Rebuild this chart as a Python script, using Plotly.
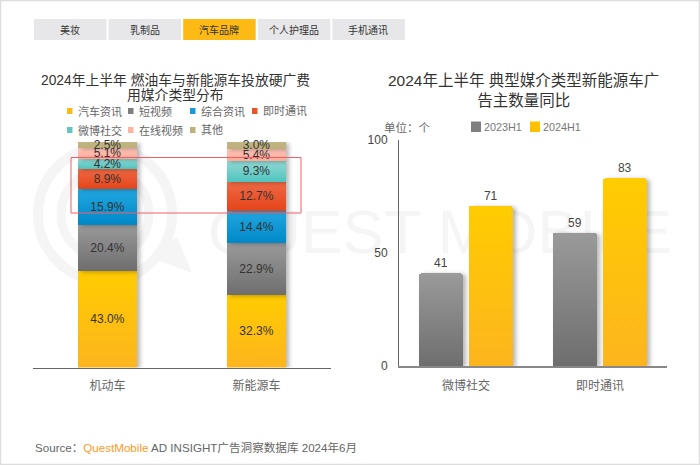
import plotly.graph_objects as go

tabs = ["美妆", "乳制品", "汽车品牌", "个人护理品", "手机通讯"]
active_tab = "汽车品牌"
left_title = ["2024年上半年 燃油车与新能源车投放硬广费", "用媒介类型分布"]
right_title = "2024年上半年 典型媒介类型新能源车广<br>告主数量同比"
left_cats = ["机动车", "新能源车"]
left_names = ["汽车资讯", "短视频", "综合资讯", "即时通讯", "微博社交", "在线视频", "其他"]
left_colors = ["#FDBA14", "#7F7F7F", "#1A9AD6", "#E9552B", "#62C6C4", "#FBB5A3", "#BDB078"]
car_vals = [43.0, 20.4, 15.9, 8.9, 4.2, 5.1, 2.5]
nev_vals = [32.3, 22.9, 14.4, 12.7, 9.3, 5.4, 3.0]
right_cats = ["微博社交", "即时通讯"]
h1_2023 = [41, 59]
h1_2024 = [71, 83]
right_ticks = [0, 50, 100]

W, H = 700, 465
FONT = "Liberation Sans, Noto Sans CJK SC"
px = lambda x: x / W
py = lambda y: 1 - y / H

fig = go.Figure()
# Watermark lives on the first subplot so it is painted beneath the bars.
fig.add_trace(go.Scatter(x=[440], y=[237], mode="text", text=["QUEST MOBILE"], xaxis="x", yaxis="y",
                         textfont=dict(size=62, color="#F5F5F5", family="Liberation Sans"),
                         textposition="middle center", showlegend=False, hoverinfo="skip", cliponaxis=False))
for i, name in enumerate(left_names):
    vals = [car_vals[i], nev_vals[i]]
    fig.add_trace(go.Bar(
        x=left_cats, y=vals, name=name, xaxis="x2", yaxis="y2",
        width=0.4, marker=dict(color=left_colors[i], line_width=0),
        text=[f"{v:.1f}%" for v in vals], textposition="inside",
        insidetextanchor="middle", constraintext="none", textangle=0,
        insidetextfont=dict(size=12, color="#333333", family=FONT),
        showlegend=False, cliponaxis=False,
    ))
for name, vals, color, off in [("2023H1", h1_2023, "#7F7F7F", -0.35), ("2024H1", h1_2024, "#FFC000", 0.022)]:
    fig.add_trace(go.Bar(
        x=right_cats, y=vals, name=name, xaxis="x3", yaxis="y3",
        width=0.325, offset=off,
        marker=dict(color=color, line_width=0, cornerradius=2),
        text=vals, textposition="outside",
        textfont=dict(size=12, color="#444444", family=FONT),
        showlegend=False, cliponaxis=False, offsetgroup=name,
    ))

shapes, ann = [], []
def text(x, y, s, size=12, color="#555555", anchor="center", **kw):
    ann.append(dict(xref="paper", yref="paper", x=px(x), y=py(y), text=s, showarrow=False,
                    xanchor=anchor, yanchor="middle", align="center",
                    font=dict(size=size, color=color, family=FONT), **kw))
def rect(x0, y0, x1, y1, fill=None, line=None, lw=0, layer="below"):
    shapes.append(dict(type="rect", xref="paper", yref="paper", x0=px(x0), x1=px(x1), y0=py(y0), y1=py(y1),
                       fillcolor=fill or "rgba(0,0,0,0)", line=dict(color=line or "rgba(0,0,0,0)", width=lw), layer=layer))

# watermark logo
for cx, cy, r, w in [(105, 214, 67, 10), (105, 214, 44, 9)]:
    shapes.append(dict(type="circle", xref="paper", yref="paper", x0=px(cx - r), x1=px(cx + r),
                       y0=py(cy + r), y1=py(cy - r), line=dict(color="#F5F5F5", width=w), layer="below"))
shapes.append(dict(type="path", xref="paper", yref="paper", layer="below", fillcolor="#F5F5F5", line_width=0,
                   path=f"M {px(150)} {py(257)} L {px(192)} {py(273)} L {px(177)} {py(237)} Z"))

# frame
rect(0.5, 0.5, 699.5, 464.5, line="#DDDDDD", lw=1.5)

# tabs
for i, t in enumerate(tabs):
    x0 = 34 + i * 74.6
    on = t == active_tab
    rect(x0, 19, x0 + 72.5, 40, fill="#FDBA14" if on else "#E7E7E9")
    text(x0 + 36, 30, t, size=10, color="#333333")

text(175.5, 80, left_title[0], size=13.8, color="#333333")
text(175.5, 96, left_title[1], size=13.8, color="#333333")
text(523, 90, right_title, size=15.5, color="#333333")

# left legend
for i, name in enumerate(left_names):
    col = i % 4
    row = i // 4
    x = [67, 128, 190, 252][col]
    y = 111 + row * 19
    rect(x, y - 3, x + 5.5, y + 3, fill=left_colors[i])
    text(x + 8.5, y, name, size=11, color="#666666", anchor="left")

# right legend
text(382, 127, "单位：个", size=11.5, color="#666666", anchor="left")
for x, name, c in [(471, "2023H1", "#7F7F7F"), (530, "2024H1", "#FFC000")]:
    rect(x, 121.5, x + 10, 132, fill=c)
    text(x + 11, 127, name, size=10.8, color="#777777", anchor="left")

# highlight
rect(71, 157.5, 301, 213, line="#F0606A", lw=1, layer="above")

# source
ann.append(dict(xref="paper", yref="paper", x=px(33), y=py(447), showarrow=False, xanchor="left", yanchor="middle",
                text="Source：<span style='color:#FF9A1F'>QuestMobile</span> AD INSIGHT广告洞察数据库 2024年6月",
                font=dict(size=11.6, color="#666666", family=FONT)))

tickfont = dict(size=12, color="#666666", family=FONT)
fig.update_layout(
    width=W, height=H, margin=dict(l=0, r=0, t=0, b=0, pad=0, autoexpand=False), autosize=False,
    paper_bgcolor="white", plot_bgcolor="rgba(0,0,0,0)",
    barmode="stack", showlegend=False,
    shapes=shapes, annotations=ann,
    xaxis=dict(domain=[0, 1], range=[0, W], visible=False, fixedrange=True, automargin=False),
    yaxis=dict(domain=[0, 1], range=[H, 0], visible=False, fixedrange=True, automargin=False),
    xaxis2=dict(domain=[px(33), px(331)], anchor="y2", showgrid=False, showline=True, linecolor="#666666", linewidth=1,
                ticks="", tickfont=tickfont, ticklabelstandoff=7, automargin=False),
    yaxis2=dict(domain=[py(367.5), py(142)], range=[0, 100], visible=False, showgrid=False, anchor="x2", automargin=False),
    xaxis3=dict(domain=[px(399), px(667)], anchor="y3", showgrid=False, showline=True, linecolor="#888888", linewidth=2,
                ticks="", tickfont=tickfont, ticklabelstandoff=8, automargin=False),
    yaxis3=dict(domain=[py(366), py(140)], range=[0, 100], anchor="x3", tickvals=right_ticks, showgrid=False,
                zeroline=False, showline=True, linecolor="#666666", linewidth=1, ticks="", ticklabelstandoff=8,
                tickfont=dict(size=12, color="#444444", family=FONT), automargin=False),
)

# Page and bar styling that the library has no option for: top-to-bottom gradients and a soft right shadow.
post = """
document.body.style.margin='0';
var gd=document.getElementById('{plot_id}');
gd.style.position='absolute';gd.style.top='0';gd.style.left='0';
var svg=gd.querySelector('svg.main-svg');
var NS='http://www.w3.org/2000/svg';
var defs=document.createElementNS(NS,'defs');svg.insertBefore(defs,svg.firstChild);
function grad(id,a,b){var g=document.createElementNS(NS,'linearGradient');g.setAttribute('id',id);
 g.setAttribute('x1','0');g.setAttribute('y1','0');g.setAttribute('x2','0');g.setAttribute('y2','1');
 [[0,a],[1,b]].forEach(function(s){var t=document.createElementNS(NS,'stop');t.setAttribute('offset',s[0]);t.setAttribute('stop-color',s[1]);g.appendChild(t);});
 defs.appendChild(g);}
var stops=[['#FFCC00','#FDB51E'],['#9A9A9A','#6E6E6E'],['#22A7E0','#0088C8'],['#EE6A45','#E5441A'],['#93D9D5','#4FC4BE'],['#FFC8BC','#FFAA95'],['#C2B586','#BDB078'],['#9A9A9A','#6E6E6E'],['#FFCC00','#FDB51E']];
stops.forEach(function(s,i){grad('qmg'+i,s[0],s[1]);});
gd.querySelectorAll('.barlayer .trace').forEach(function(t,i){
 t.querySelectorAll('.point path').forEach(function(p){
  p.style.fill='url(#qmg'+i+')';
  p.style.filter='drop-shadow(3px 1px 2px rgba(0,0,0,0.28))';
 });
});
"""
fig.write_html("out.html", post_script=post, config={"displayModeBar": False})
